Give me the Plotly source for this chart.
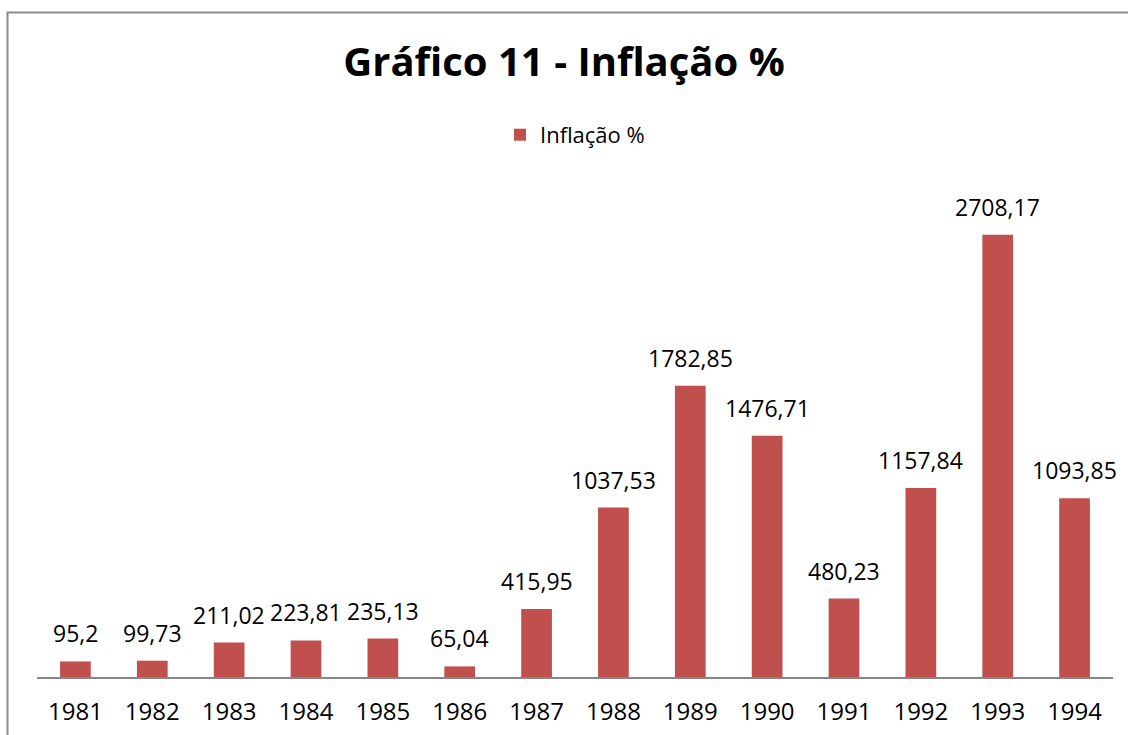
import plotly.graph_objects as go

years = ["1981", "1982", "1983", "1984", "1985", "1986", "1987",
         "1988", "1989", "1990", "1991", "1992", "1993", "1994"]
inflacao = [95.2, 99.73, 211.02, 223.81, 235.13, 65.04, 415.95,
            1037.53, 1782.85, 1476.71, 480.23, 1157.84, 2708.17, 1093.85]
labels = [str(v).replace(".", ",") for v in inflacao]

BAR = "#C0504D"
FONT = "Open Sans"

fig = go.Figure()
fig.add_trace(go.Bar(
    x=years, y=inflacao, name="Inflação %",
    marker=dict(color=BAR, line=dict(width=0)),
    width=0.4, cliponaxis=False,
))

# data labels, placed on the category index of each year
for i, (v, lab) in enumerate(zip(inflacao, labels)):
    fig.add_annotation(x=i, y=v, xref="x", yref="y", text=lab, showarrow=False,
                       yanchor="bottom", yshift=10,
                       font=dict(family=FONT, size=23, color="black"))

fig.update_layout(
    width=1128, height=735,
    margin=dict(l=37, r=15, t=187, b=58, autoexpand=False),
    paper_bgcolor="white", plot_bgcolor="white",
    title=dict(text="<b>Gráfico 11 - Inflação %</b>", x=0.5, xanchor="center",
               y=0.915, yanchor="middle", yref="container",
               font=dict(family=FONT, size=40, color="black")),
    showlegend=True,
    legend=dict(orientation="h", x=0.5, xanchor="center", y=0.845, yref="container",
                yanchor="top", font=dict(family=FONT, size=22, color="black"),
                itemwidth=30, traceorder="normal"),
    xaxis=dict(type="category", range=[-0.5, len(years) - 0.5],
               showline=True, linecolor="#868686", linewidth=2,
               ticks="", ticklabelstandoff=12, automargin=False,
               tickfont=dict(family=FONT, size=24, color="black"), showgrid=False),
    yaxis=dict(range=[0, 3000], visible=False, showgrid=False, automargin=False),
    shapes=[dict(type="rect", xref="paper", yref="paper",
                 x0=-0.0274, x1=1.03, y0=-0.2, y1=1.356,
                 line=dict(color="#8c8c8c", width=2), fillcolor="rgba(0,0,0,0)",
                 layer="below")],
)

fig.write_html("out.html", config={"displayModeBar": False},
               post_script="document.body.style.margin='0';")
